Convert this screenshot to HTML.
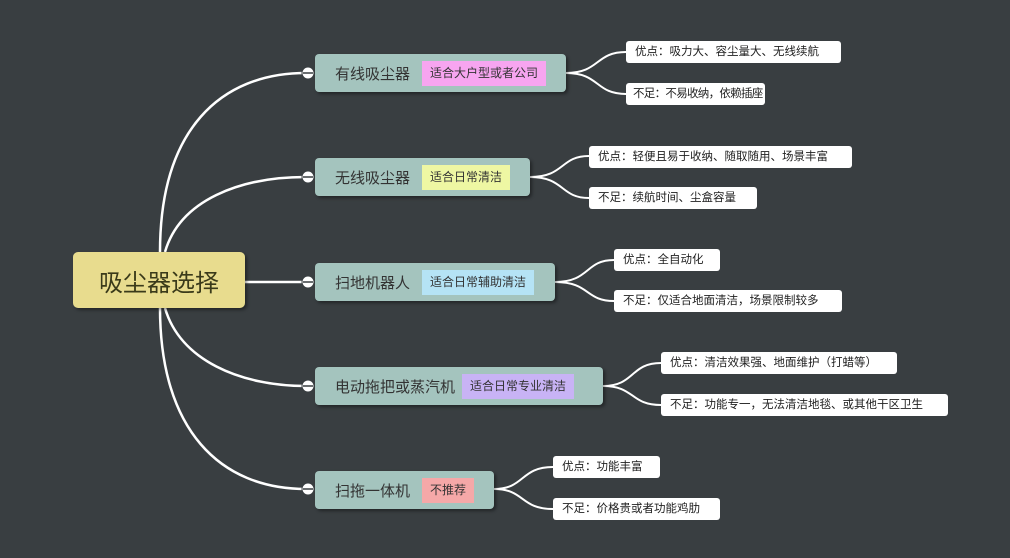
<!DOCTYPE html>
<html><head><meta charset="utf-8"><style>
body{margin:0;width:1010px;height:558px;background:#393e41;position:relative;overflow:hidden;font-family:"Liberation Sans","Noto Sans CJK SC",sans-serif}
.n{position:absolute;box-sizing:border-box;white-space:nowrap}
.root{left:73px;top:252px;width:172px;height:56px;background:#e8dc8e;border-radius:5px;font-size:24px;color:#3a3a1a;display:flex;align-items:center;justify-content:center;box-shadow:2px 2px 3px rgba(0,0,0,.4)}
.br{background:#a4c4be;border-radius:4px;height:38px;font-size:15px;color:#333;display:flex;align-items:center;padding-left:20px;box-shadow:2px 2px 3px rgba(0,0,0,.4)}
.tag{font-size:12px;height:25px;line-height:25px;padding:0 8px;margin-left:7px;color:#333;white-space:nowrap}
.lf{background:#fff;border-radius:3px;height:22px;line-height:22px;font-size:11.5px;color:#222;padding-left:9px}
</style></head><body>
<svg width="1010" height="558" style="position:absolute;left:0;top:0" fill="none" stroke="#fff" stroke-width="2.5">
<path d="M160 252 C160 130 220 73 306 73"/>
<path d="M165 252 C180 200 240 177 306 177"/>
<path d="M245 282 L306 282"/>
<path d="M165 308 C180 360 240 386 306 386"/>
<path d="M160 308 C160 430 220 489 306 489"/>
<g stroke-width="2">
<path d="M566 73 C600 73 595 52 626 52"/><path d="M566 73 C600 73 595 94 626 94"/>
<path d="M530 177 C565 177 560 156 589 156"/><path d="M530 177 C565 177 560 198 589 198"/>
<path d="M555 282 C590 282 585 260 614 260"/><path d="M555 282 C590 282 585 301 614 301"/>
<path d="M603 386 C635 386 630 363 661 363"/><path d="M603 386 C635 386 630 405 661 405"/>
<path d="M494 489 C525 489 520 467 553 467"/><path d="M494 489 C525 489 520 509 553 509"/>
</g>
<g fill="#fff" stroke="#393e41" stroke-width="1">
<circle cx="308" cy="73" r="6"/><circle cx="308" cy="177" r="6"/><circle cx="308" cy="282" r="6"/><circle cx="308" cy="386" r="6"/><circle cx="308" cy="489" r="6"/>
</g>
<g stroke="#393e41" stroke-width="1.5">
<path d="M303 73h10M303 177h10M303 282h10M303 386h10M303 489h10"/>
</g>
</svg>
<div class="n root">吸尘器选择</div>
<div class="n br" style="left:315px;top:54px;width:251px">有线吸尘器<span class="tag" style="background:#f7a5f0;margin-left:12px">适合大户型或者公司</span></div>
<div class="n br" style="left:315px;top:158px;width:215px">无线吸尘器<span class="tag" style="background:#eef7a3;margin-left:12px">适合日常清洁</span></div>
<div class="n br" style="left:315px;top:263px;width:240px">扫地机器人<span class="tag" style="background:#b5e3f5;margin-left:12px">适合日常辅助清洁</span></div>
<div class="n br" style="left:315px;top:367px;width:288px">电动拖把或蒸汽机<span class="tag" style="background:#c8b3f5">适合日常专业清洁</span></div>
<div class="n br" style="left:315px;top:471px;width:179px">扫拖一体机<span class="tag" style="background:#f5a8a8;margin-left:12px">不推荐</span></div>
<div class="n lf" style="left:626px;top:41px;width:215px">优点：吸力大、容尘量大、无线续航</div>
<div class="n lf" style="left:626px;top:83px;width:139px;letter-spacing:-0.7px;padding-left:7px">不足：不易收纳，依赖插座</div>
<div class="n lf" style="left:589px;top:146px;width:263px">优点：轻便且易于收纳、随取随用、场景丰富</div>
<div class="n lf" style="left:589px;top:187px;width:168px">不足：续航时间、尘盒容量</div>
<div class="n lf" style="left:614px;top:249px;width:106px">优点：全自动化</div>
<div class="n lf" style="left:614px;top:290px;width:228px">不足：仅适合地面清洁，场景限制较多</div>
<div class="n lf" style="left:661px;top:352px;width:236px">优点：清洁效果强、地面维护（打蜡等）</div>
<div class="n lf" style="left:661px;top:394px;width:287px">不足：功能专一，无法清洁地毯、或其他干区卫生</div>
<div class="n lf" style="left:553px;top:456px;width:107px">优点：功能丰富</div>
<div class="n lf" style="left:553px;top:498px;width:167px">不足：价格贵或者功能鸡肋</div>
</body></html>
